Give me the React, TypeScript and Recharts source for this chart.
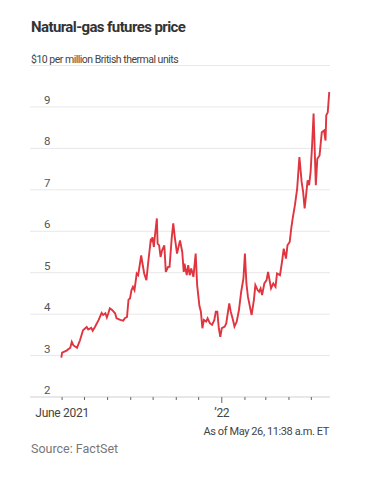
import React from 'react';
import { LineChart, Line, XAxis, YAxis, CartesianGrid } from 'recharts';

// Days since June 1, 2021, and the front-month price ($ per million BTU)
const DAY_OFFSETS = [
  -1, 0, 6, 11, 13, 15, 20, 24, 28, 33, 35, 39, 41, 44, 49, 53, 55, 58, 60, 62,
  64, 67, 71, 73, 78, 82, 84, 87, 89, 91, 93, 95, 97, 100, 102, 106, 107, 110, 113, 115,
  119, 120, 121, 123, 124, 127, 128, 130, 132, 134, 137, 139, 142, 144, 147, 149, 151, 154, 158, 161,
  163, 164, 167, 169, 171, 173, 176, 179, 181, 184, 186, 188, 190, 193, 195, 198, 201, 204, 206, 208,
  210, 212, 214, 218, 220, 224, 226, 229, 231, 234, 237, 240, 243, 245, 247, 249, 253, 254, 257, 259,
  262, 264, 266, 268, 271, 274, 276, 280, 283, 286, 288, 292, 295, 297, 300, 302, 305, 307, 309, 312,
  315, 318, 321, 323, 325, 327, 329, 331, 333, 335, 337, 340, 342, 345, 348, 351, 353, 354, 356, 358,
];
const PRICES = [
  2.95, 3.07, 3.12, 3.19, 3.33, 3.25, 3.19, 3.37, 3.61, 3.69, 3.63, 3.67, 3.6, 3.69, 3.86, 4.03, 3.98, 4.02, 3.92, 4.02,
  4.14, 4.1, 4.02, 3.9, 3.86, 3.84, 3.9, 3.93, 4.35, 4.38, 4.58, 4.66, 4.58, 4.98, 4.94, 5.42, 5.3, 4.98, 4.82, 5.18,
  5.82, 5.74, 5.86, 5.62, 5.82, 6.31, 5.7, 5.66, 5.38, 5.54, 5.66, 5.02, 5.14, 5.14, 5.86, 6.19, 5.86, 5.46, 5.78, 5.5,
  5.02, 5.22, 4.94, 5.18, 4.94, 5.1, 4.9, 5.46, 4.7, 4.2, 4.06, 3.66, 3.86, 3.82, 3.9, 3.78, 3.74, 3.86, 4.06, 4.06,
  3.66, 3.45, 3.66, 3.7, 3.78, 4.26, 4.06, 3.86, 3.7, 3.82, 4.1, 4.54, 4.86, 5.46, 4.74, 4.42, 4.06, 3.98, 4.34, 4.7,
  4.58, 4.54, 4.62, 4.46, 4.74, 4.82, 5.02, 4.62, 4.74, 4.66, 4.98, 4.94, 5.3, 5.58, 5.34, 5.66, 5.74, 6.06, 6.31, 6.63,
  7.03, 7.79, 7.19, 6.95, 6.55, 6.87, 7.23, 7.11, 7.43, 8.07, 8.84, 7.11, 7.75, 7.83, 8.39, 8.43, 8.19, 8.8, 8.87, 9.36,
];

// Month starts (days since June 1, 2021); only two of them carry labels
const MONTH_TICKS = [0, 30, 61, 92, 122, 153, 183, 214, 245, 273, 304, 334];
const MONTH_LABELS: Record<number, string> = { 0: 'June 2021', 214: '\u201922' };
const PRICE_TICKS = [2, 3, 4, 5, 6, 7, 8, 9, 10];
const UNIT_LABEL = '$10 per million British thermal units';

const FONT = "Roboto, 'Liberation Sans', sans-serif";

const data = DAY_OFFSETS.map((day, i) => ({ day, price: PRICES[i] }));

const PriceTick = ({ x, y, payload }: any) => {
  if (payload.value === 10) {
    return (
      <text x={x + 1} y={y - 3} fontFamily={FONT} fontSize={10.5} letterSpacing={-0.5} fill="#444">
        {UNIT_LABEL}
      </text>
    );
  }
  return (
    <text x={x + 14} y={y - 3} fontFamily={FONT} fontSize={11.5} fill="#555">
      {payload.value}
    </text>
  );
};

const MonthTick = ({ x, y, payload }: any) => {
  const label = MONTH_LABELS[payload.value];
  const major = payload.value === MONTH_TICKS[7];
  return (
    <g>
      <line x1={x} x2={x} y1={y} y2={y + (major ? 6 : 3)} stroke="#666" strokeWidth={1} />
      {label && (
        <text x={x} y={y + 20} textAnchor="middle" fontFamily={FONT} fontSize={12} letterSpacing={-0.3} fill="#444">
          {label}
        </text>
      )}
    </g>
  );
};

export default function App() {
  return (
    <div style={{ position: 'absolute', left: 0, top: 0, width: 383, height: 494, background: '#fff' }}>
      <LineChart
        width={383}
        height={494}
        data={data}
        margin={{ top: 65.5, right: 53, left: 29, bottom: 67 }}
      >
        <CartesianGrid vertical={false} stroke="#e8e8e8" strokeWidth={1} />
        <XAxis
          dataKey="day"
          type="number"
          domain={[-43, 359]}
          ticks={MONTH_TICKS}
          height={30}
          tickSize={0}
          tickMargin={0}
          tickLine={false}
          axisLine={{ stroke: '#dcdcdc' }}
          tick={<MonthTick />}
          interval={0}
        />
        <YAxis
          type="number"
          domain={[2, 10]}
          ticks={PRICE_TICKS}
          width={1}
          tickSize={0}
          tickMargin={0}
          axisLine={false}
          tickLine={false}
          tick={<PriceTick />}
          interval={0}
        />
        <Line
          type="linear"
          dataKey="price"
          stroke="#e0343f"
          strokeWidth={1.9}
          dot={false}
          isAnimationActive={false}
        />
      </LineChart>
      <svg
        width={383}
        height={494}
        style={{ position: 'absolute', left: 0, top: 0, pointerEvents: 'none' }}
      >
        <text x={31} y={32} fontFamily={FONT} fontWeight="bold" fontSize={15} letterSpacing={-0.6} fill="#333">
          Natural-gas futures price
        </text>
        <text x={329} y={435} textAnchor="end" fontFamily={FONT} fontSize={11} letterSpacing={-0.4} fill="#444">
          As of May 26, 11:38 a.m. ET
        </text>
        <text x={31} y={453} fontFamily={FONT} fontSize={12.5} fill="#777">
          Source: FactSet
        </text>
      </svg>
    </div>
  );
}
